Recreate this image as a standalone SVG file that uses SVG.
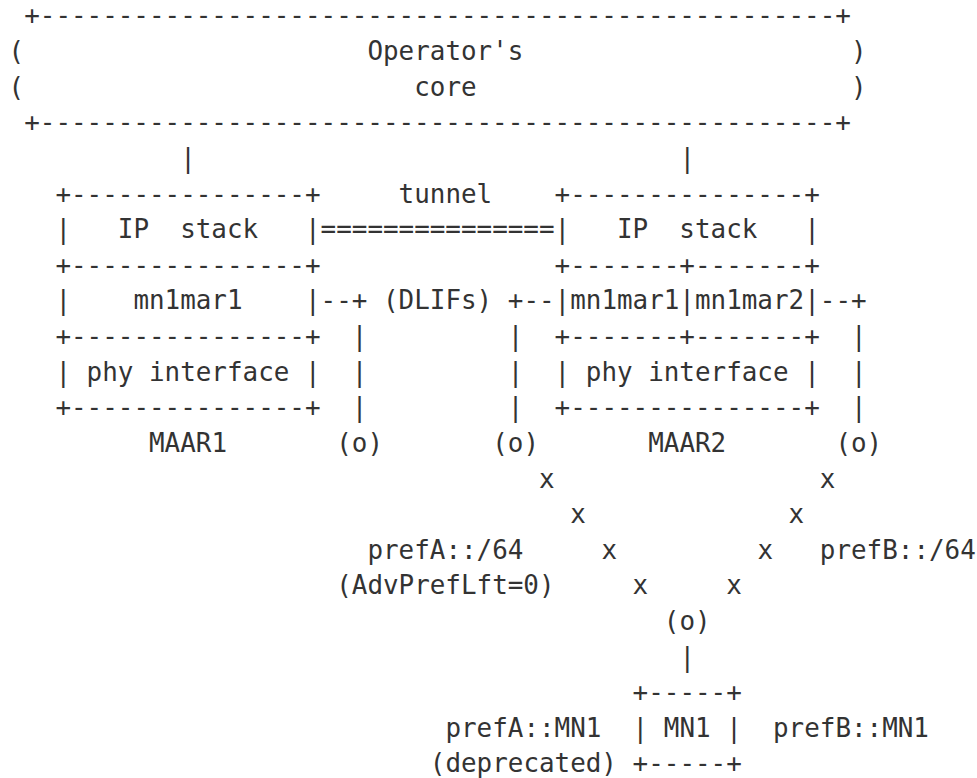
<svg xmlns="http://www.w3.org/2000/svg" width="977" height="778" viewBox="0 0 977 778" xml:space="preserve">
<style>
text { font-family: "DejaVu Sans Mono", "Liberation Mono", monospace; font-size: 25.91px; fill: #333333; white-space: pre; }
</style>
<rect x="0" y="0" width="977" height="778" fill="#ffffff"/>
<g id="core">
<text x="24.2" y="24.4">+---------------------------------------------------+</text>
<text x="8.6" y="60.0">(</text>
<text x="367.4" y="60.0">Operator's</text>
<text x="851" y="60.0">)</text>
<text x="8.6" y="95.6">(</text>
<text x="414.2" y="95.6">core</text>
<text x="851" y="95.6">)</text>
<text x="24.2" y="131.3">+---------------------------------------------------+</text>
</g>
<g id="maar1">
<text x="55.4" y="202.5">+---------------+</text>
<text x="55.4" y="238.1">|   IP  stack   |</text>
<text x="55.4" y="273.7">+---------------+</text>
<text x="55.4" y="309.4">|    mn1mar1    |</text>
<text x="55.4" y="345.0">+---------------+</text>
<text x="55.4" y="380.6">| phy interface |</text>
<text x="55.4" y="416.2">+---------------+</text>
<text x="149" y="451.8">MAAR1</text>
</g>
<g id="maar2">
<text x="554.6" y="202.5">+---------------+</text>
<text x="554.6" y="238.1">|   IP  stack   |</text>
<text x="554.6" y="273.7">+-------+-------+</text>
<text x="554.6" y="309.4">|mn1mar1|mn1mar2|</text>
<text x="554.6" y="345.0">+-------+-------+</text>
<text x="554.6" y="380.6">| phy interface |</text>
<text x="554.6" y="416.2">+---------------+</text>
<text x="648.2" y="451.8">MAAR2</text>
</g>
<g id="mn1">
<text x="632.6" y="701.2">+-----+</text>
<text x="632.6" y="736.8">| MN1 |</text>
<text x="632.6" y="772.4">+-----+</text>
</g>
<g id="connectors">
<text x="180.2" y="166.9">|</text>
<text x="679.4" y="166.9">|</text>
<text x="320.6" y="238.1">===============</text>
<text x="320.6" y="309.4">--+</text>
<text x="507.8" y="309.4">+--</text>
<text x="819.8" y="309.4">--+</text>
<text x="351.8" y="345.0">|</text>
<text x="507.8" y="345.0">|</text>
<text x="851" y="345.0">|</text>
<text x="351.8" y="380.6">|</text>
<text x="507.8" y="380.6">|</text>
<text x="851" y="380.6">|</text>
<text x="351.8" y="416.2">|</text>
<text x="507.8" y="416.2">|</text>
<text x="851" y="416.2">|</text>
<text x="336.2" y="451.8">(o)</text>
<text x="492.2" y="451.8">(o)</text>
<text x="835.4" y="451.8">(o)</text>
<text x="539" y="487.5">x</text>
<text x="819.8" y="487.5">x</text>
<text x="570.2" y="523.1">x</text>
<text x="788.6" y="523.1">x</text>
<text x="601.4" y="558.7">x</text>
<text x="757.4" y="558.7">x</text>
<text x="632.6" y="594.3">x</text>
<text x="726.2" y="594.3">x</text>
<text x="663.8" y="629.9">(o)</text>
<text x="679.4" y="665.6">|</text>
</g>
<g id="labels">
<text x="398.6" y="202.5">tunnel</text>
<text x="383" y="309.4">(DLIFs)</text>
<text x="367.4" y="558.7">prefA::/64</text>
<text x="819.8" y="558.7">prefB::/64</text>
<text x="336.2" y="594.3">(AdvPrefLft=0)</text>
<text x="445.4" y="736.8">prefA::MN1</text>
<text x="773" y="736.8">prefB::MN1</text>
<text x="429.8" y="772.4">(deprecated)</text>
</g>
</svg>
